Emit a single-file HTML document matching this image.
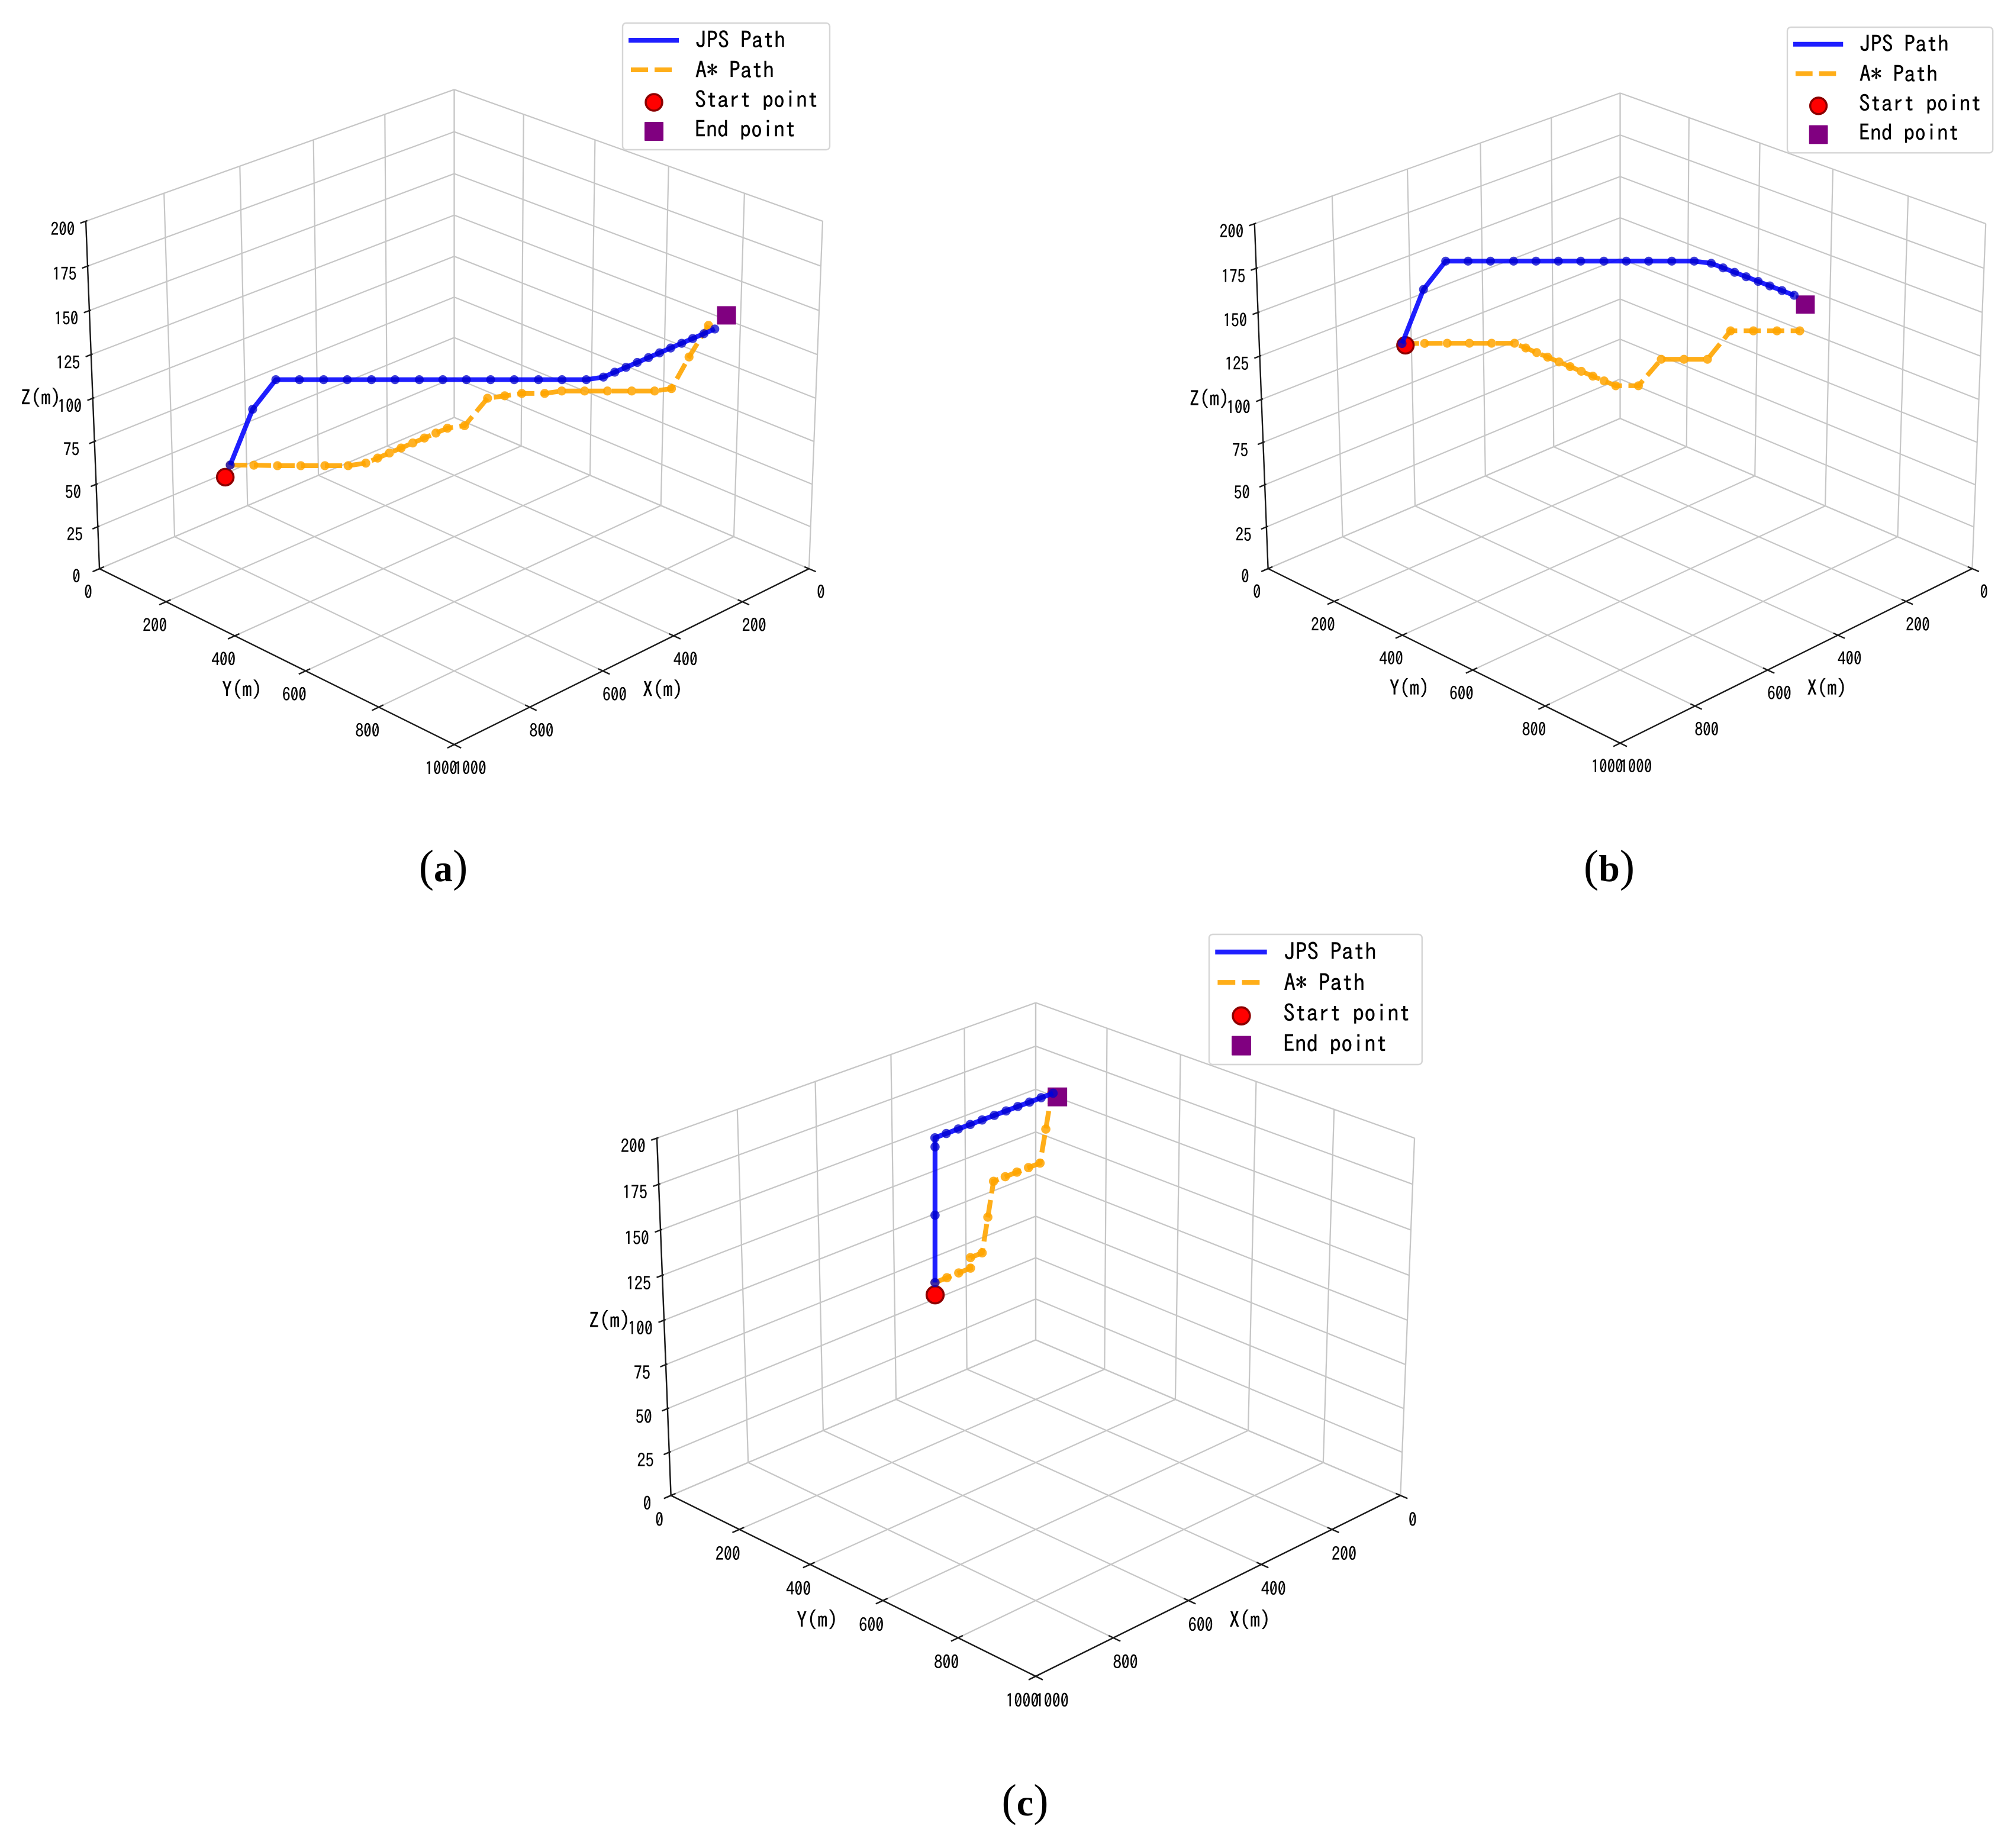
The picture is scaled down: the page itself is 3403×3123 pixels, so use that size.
<!DOCTYPE html>
<html lang="en">
<head>
<meta charset="utf-8">
<title>JPS and A* 3D path comparison</title>
<style>
html,body{margin:0;padding:0;background:#fff;}
svg{display:block;}
.tick{font-family:"IPAGothic","Liberation Mono",sans-serif;fill:#000;stroke:#000;stroke-width:0.3px;text-anchor:middle;dominant-baseline:central;}
.title{font-family:"IPAGothic","Liberation Mono",sans-serif;fill:#000;stroke:#000;stroke-width:0.3px;text-anchor:middle;dominant-baseline:central;}
.leg{font-family:"IPAGothic","Liberation Mono",sans-serif;font-size:38px;fill:#000;stroke:#000;stroke-width:0.4px;}
.cap{font-family:"Liberation Serif",serif;fill:#000;text-anchor:middle;}
.cap .p{font-size:76px;font-weight:normal;}
.cap .l{font-size:64px;font-weight:bold;}
</style>
</head>
<body>
<svg id="figure" xmlns="http://www.w3.org/2000/svg" width="3403" height="3123" viewBox="0 0 3403 3123">
  <rect x="0" y="0" width="3403" height="3123" fill="#ffffff"/>
  <g id="panel-a"></g>
  <g id="panel-b"></g>
  <g id="panel-c"></g>

  <text class="title" x="69" y="672" font-size="36" textLength="68" lengthAdjust="spacingAndGlyphs">Z(m)</text>
  <text class="title" x="409" y="1165" font-size="36" textLength="68" lengthAdjust="spacingAndGlyphs">Y(m)</text>
  <text class="title" x="1120" y="1165" font-size="36" textLength="68" lengthAdjust="spacingAndGlyphs">X(m)</text>
  <text class="title" x="2043.5" y="674" font-size="35.7" textLength="67.5" lengthAdjust="spacingAndGlyphs">Z(m)</text>
  <text class="title" x="2381.5" y="1163" font-size="35.7" textLength="67.5" lengthAdjust="spacingAndGlyphs">Y(m)</text>
  <text class="title" x="3087" y="1163" font-size="35.7" textLength="67.5" lengthAdjust="spacingAndGlyphs">X(m)</text>
  <text class="title" x="1030" y="2231" font-size="37" textLength="70" lengthAdjust="spacingAndGlyphs">Z(m)</text>
  <text class="title" x="1381" y="2737" font-size="37" textLength="70" lengthAdjust="spacingAndGlyphs">Y(m)</text>
  <text class="title" x="2112" y="2737" font-size="37" textLength="70" lengthAdjust="spacingAndGlyphs">X(m)</text>

  <g transform="translate(1052 39)">
    <rect x="0" y="0" width="350" height="214" rx="6" fill="#ffffff" fill-opacity="0.8" stroke="#d6d6d6" stroke-width="2.4"/>
    <line x1="10" y1="29" x2="95" y2="29" stroke="#0000ff" stroke-opacity="0.88" stroke-width="8"/>
    <line x1="14" y1="79" x2="83" y2="79" stroke="#ffa500" stroke-opacity="0.9" stroke-width="8" stroke-dasharray="29 11"/>
    <circle cx="53" cy="134" r="14" fill="#ff0000" stroke="#8b0000" stroke-width="3.5"/>
    <rect x="37" y="167" width="32" height="32" rx="1" fill="#800080"/>
    <text class="leg" x="123" y="42">JPS Path</text>
    <text class="leg" x="123" y="93">A* Path</text>
    <text class="leg" x="122" y="143">Start point</text>
    <text class="leg" x="122" y="193">End point</text>
  </g>
  <g transform="translate(3020 46) scale(0.992)">
    <rect x="0" y="0" width="350" height="214" rx="6" fill="#ffffff" fill-opacity="0.8" stroke="#d6d6d6" stroke-width="2.4"/>
    <line x1="10" y1="29" x2="95" y2="29" stroke="#0000ff" stroke-opacity="0.88" stroke-width="8"/>
    <line x1="14" y1="79" x2="83" y2="79" stroke="#ffa500" stroke-opacity="0.9" stroke-width="8" stroke-dasharray="29 11"/>
    <circle cx="53" cy="134" r="14" fill="#ff0000" stroke="#8b0000" stroke-width="3.5"/>
    <rect x="37" y="167" width="32" height="32" rx="1" fill="#800080"/>
    <text class="leg" x="123" y="42">JPS Path</text>
    <text class="leg" x="123" y="93">A* Path</text>
    <text class="leg" x="122" y="143">Start point</text>
    <text class="leg" x="122" y="193">End point</text>
  </g>
  <g transform="translate(2043 1579) scale(1.028)">
    <rect x="0" y="0" width="350" height="214" rx="6" fill="#ffffff" fill-opacity="0.8" stroke="#d6d6d6" stroke-width="2.4"/>
    <line x1="10" y1="29" x2="95" y2="29" stroke="#0000ff" stroke-opacity="0.88" stroke-width="8"/>
    <line x1="14" y1="79" x2="83" y2="79" stroke="#ffa500" stroke-opacity="0.9" stroke-width="8" stroke-dasharray="29 11"/>
    <circle cx="53" cy="134" r="14" fill="#ff0000" stroke="#8b0000" stroke-width="3.5"/>
    <rect x="37" y="167" width="32" height="32" rx="1" fill="#800080"/>
    <text class="leg" x="123" y="42">JPS Path</text>
    <text class="leg" x="123" y="93">A* Path</text>
    <text class="leg" x="122" y="143">Start point</text>
    <text class="leg" x="122" y="193">End point</text>
  </g>

  <text class="cap" x="749" y="1489"><tspan class="p">(</tspan><tspan class="l">a</tspan><tspan class="p">)</tspan></text>
  <text class="cap" x="2719" y="1489"><tspan class="p">(</tspan><tspan class="l">b</tspan><tspan class="p">)</tspan></text>
  <text class="cap" x="1732" y="3068"><tspan class="p">(</tspan><tspan class="l">c</tspan><tspan class="p">)</tspan></text>
</svg>

<script>
// Axis tick labels
const xTickValues = [0, 200, 400, 600, 800, 1000];
const yTickValues = [0, 200, 400, 600, 800, 1000];
const zTickValues = [0, 25, 50, 75, 100, 125, 150, 175, 200];

// Panel (a) data, metres
const aJpsX = [888,856,825,793,760,728,695,663,630,598,566,533,501,468,436,403,371,339,307,275,243,211,179,147,115,82,50];
const aJpsY = [273,306,340,372,405,437,470,502,535,567,599,632,664,697,729,762,777,777,777,777,777,777,777,777,777,777,777];
const aJpsZ = [76,108,125,125,125,125,125,125,125,125,125,125,125,125,125,125,125,125,125,125,125,125,125,125,125,125,125];
const aStarX = [888,856,825,793,760,728,696,664,632,600,568,536,504,472,440,408,376,344,312,280,248,216,182,150,118,86,52];
const aStarY = [273,306,340,372,405,437,453,453,453,453,453,453,453,453,469,501,517,533,565,581,613,645,679,711,727,743,762];
const aStarZ = [76,76,76,76,76,76,76,76,76,76,76,76,76,76,76,92,92,92,92,92,92,92,92,92,92,109,126];
const aStartPoint = [890, 260, 68];
const aEndPoint = [16, 777, 130];

// Panel (b) data, metres
const bJpsX = [762,730,698,667,636,604,573,542,511,479,448,417,385,354,338,338,338,338,338,338,338,338];
const bJpsY = [153,184,215,246,277,309,340,371,402,434,465,496,528,559,590,622,653,684,716,747,779,811];
const bJpsZ = [125,156,172,172,172,172,172,172,172,172,172,172,172,172,172,172,172,172,172,172,172,172];
const bStarX = [762,730,698,667,636,604,604,604,604,604,604,604,604,604,604,573,542,511,479,448,417,385,354];
const bStarY = [153,184,215,246,277,309,341,372,403,435,466,497,529,560,592,623,654,685,717,748,779,811,842];
const bStarZ = [125,125,125,125,125,125,125,125,125,125,125,125,125,125,125,125,140,140,140,156,156,156,156];
const bStartPoint = [763, 164, 125];
const bEndPoint = [311, 816, 165];

// Panel (c) data, metres
const cJpsX = [516,515,514,514,484,452,420,388,355,323,291,259,227,194];
const cJpsY = [240,241,242,242,242,242,242,242,242,242,242,242,242,242];
const cJpsZ = [100,138,176,181,181,181,181,181,181,181,181,181,181,181];
const cStarX = [516,484,452,420,420,388,372,356,324,292,260,228,212,196];
const cStarY = [240,240,240,240,240,240,240,240,240,240,240,240,240,240];
const cStarZ = [100,100,100,100,106,106,125,144,144,144,144,144,162,181];
const cStartPoint = [516, 240, 93];
const cEndPoint = [195, 255, 180];

// Camera model
const SVG_NS = 'http://www.w3.org/2000/svg';
const ELEV = 25 * Math.PI / 180;
const SIN_E = Math.sin(ELEV);
const COS_E = Math.cos(ELEV);
const DIST = 10;
const BOX_XY = 1.1905;
const BOX_Z = 0.8929;
const X_MAX = 1000;
const Y_MAX = 1000;
const Z_MAX = 200;

function project(view, x, y, z) {
  const dx = (x / X_MAX - 0.5) * BOX_XY;
  const dy = (y / Y_MAX - 0.5) * BOX_XY;
  const dz = (z / Z_MAX - 0.5) * BOX_Z;
  const p = (dy - dx) / Math.SQRT2;
  const q = (dx + dy) / Math.SQRT2;
  const depth = DIST - COS_E * q - SIN_E * dz;
  return [view.cx + view.k * p / depth, view.cy - view.k * (-SIN_E * q + COS_E * dz) / depth];
}

function make(tag, attrs, parent) {
  const node = document.createElementNS(SVG_NS, tag);
  for (const key in attrs) node.setAttribute(key, attrs[key]);
  parent.appendChild(node);
  return node;
}

function segment(view, a, b, stroke, width, parent) {
  const p1 = project(view, a[0], a[1], a[2]);
  const p2 = project(view, b[0], b[1], b[2]);
  return make('line', {x1: p1[0], y1: p1[1], x2: p2[0], y2: p2[1], stroke: stroke, 'stroke-width': width}, parent);
}

function pathPoints(view, xs, ys, zs) {
  return xs.map(function (x, i) { return project(view, x, ys[i], zs[i]); });
}

function drawAxes(view, g) {
  const s = view.k / 7255;
  const gridColor = '#c6c6c6';
  const gridWidth = 2.2 * s;
  const axisColor = '#1a1a1a';
  const axisWidth = 2.4 * s;

  xTickValues.forEach(function (v) {
    const floor = segment(view, [v, 0, 0], [v, Y_MAX, 0], gridColor, gridWidth, g);
    
    
    const wall = segment(view, [v, 0, 0], [v, 0, Z_MAX], gridColor, gridWidth, g);
    
    
  });
  yTickValues.forEach(function (v) {
    const floor = segment(view, [0, v, 0], [X_MAX, v, 0], gridColor, gridWidth, g);
    
    
    const wall = segment(view, [0, v, 0], [0, v, Z_MAX], gridColor, gridWidth, g);
    
    
  });
  zTickValues.forEach(function (v) {
    const left = segment(view, [X_MAX, 0, v], [0, 0, v], gridColor, gridWidth, g);
    
    
    const right = segment(view, [0, 0, v], [0, Y_MAX, v], gridColor, gridWidth, g);
    
    
  });

  const zAxis = segment(view, [X_MAX, 0, 0], [X_MAX, 0, Z_MAX], axisColor, axisWidth, g);
  
  
  const yAxis = segment(view, [X_MAX, 0, 0], [X_MAX, Y_MAX, 0], axisColor, axisWidth, g);
  
  
  const xAxis = segment(view, [0, Y_MAX, 0], [X_MAX, Y_MAX, 0], axisColor, axisWidth, g);
  
  

  const fontSize = 30 * s;
  const charWidth = 13.6 * s;

  xTickValues.forEach(function (v) {
    const tick = segment(view, [v, Y_MAX - 12, 0], [v, Y_MAX + 18, 0], axisColor, axisWidth, g);
    
    
    const p = project(view, v, Y_MAX, 0);
    const off = v === 1000 ? 27 : 20;
    const text = String(v);
    const label = make('text', {class: 'tick', x: p[0] + off * s, y: p[1] + 39.5 * s, 'font-size': fontSize, textLength: text.length * charWidth, lengthAdjust: 'spacingAndGlyphs'}, g);
    
    
    label.textContent = text;
  });
  yTickValues.forEach(function (v) {
    const tick = segment(view, [X_MAX - 12, v, 0], [X_MAX + 18, v, 0], axisColor, axisWidth, g);
    
    
    const p = project(view, X_MAX, v, 0);
    const text = String(v);
    const label = make('text', {class: 'tick', x: p[0] - (v === 1000 ? 22 : 19) * s, y: p[1] + 39.5 * s, 'font-size': fontSize, textLength: text.length * charWidth, lengthAdjust: 'spacingAndGlyphs'}, g);
    
    
    label.textContent = text;
  });
  zTickValues.forEach(function (v) {
    const tick = segment(view, [X_MAX - 4, 0, v], [X_MAX + 14, 0, v], axisColor, axisWidth, g);
    
    
    const p = project(view, X_MAX, 0, v);
    const text = String(v);
    const label = make('text', {class: 'tick', x: p[0] - 39 * s, y: p[1] + 13 * s, 'font-size': fontSize, textLength: text.length * charWidth, lengthAdjust: 'spacingAndGlyphs'}, g);
    
    
    label.textContent = text;
  });
}

function drawSeries(view, g, jps, star, startPoint, endPoint) {
  const s = view.k / 7255;

  const starPts = pathPoints(view, star[0], star[1], star[2]);
  const starLine = make('polyline', {
    points: starPts.map(function (p) { return p.join(','); }).join(' '),
    fill: 'none', stroke: '#ffa500', 'stroke-opacity': 0.9, 'stroke-width': 8 * s,
    'stroke-dasharray': (29 * s) + ' ' + (11 * s)
  }, g);
  
  
  starPts.forEach(function (p) {
    const dot = make('circle', {cx: p[0], cy: p[1], r: 7.6 * s, fill: '#ffa500', 'fill-opacity': 0.85}, g);
    
    
  });

  const sp = project(view, startPoint[0], startPoint[1], startPoint[2]);
  const startMark = make('circle', {cx: sp[0], cy: sp[1], r: 14 * s, fill: '#ff0000', stroke: '#8b0000', 'stroke-width': 3.5 * s}, g);
  
  

  const ep = project(view, endPoint[0], endPoint[1], endPoint[2]);
  const endMark = make('rect', {x: ep[0] - 16 * s, y: ep[1] - 15.5 * s, width: 32 * s, height: 31 * s, fill: '#800080'}, g);
  
  

  const jpsPts = pathPoints(view, jps[0], jps[1], jps[2]);
  const jpsLine = make('polyline', {
    points: jpsPts.map(function (p) { return p.join(','); }).join(' '),
    fill: 'none', stroke: '#0000ff', 'stroke-opacity': 0.88, 'stroke-width': 8 * s, 'stroke-linejoin': 'round'
  }, g);
  
  
  jpsPts.forEach(function (p) {
    const dot = make('circle', {cx: p[0], cy: p[1], r: 7.6 * s, fill: '#0000cc', 'fill-opacity': 0.75}, g);
    
    
  });
}

const viewA = {cx: 767.5, cy: 673, k: 7255};
const viewB = {cx: 2737.5, cy: 675, k: 7200};
const viewC = {cx: 1750, cy: 2231, k: 7460};

drawAxes(viewA, document.getElementById('panel-a'));
drawSeries(viewA, document.getElementById('panel-a'), [aJpsX, aJpsY, aJpsZ], [aStarX, aStarY, aStarZ], aStartPoint, aEndPoint);
drawAxes(viewB, document.getElementById('panel-b'));
drawSeries(viewB, document.getElementById('panel-b'), [bJpsX, bJpsY, bJpsZ], [bStarX, bStarY, bStarZ], bStartPoint, bEndPoint);
drawAxes(viewC, document.getElementById('panel-c'));
drawSeries(viewC, document.getElementById('panel-c'), [cJpsX, cJpsY, cJpsZ], [cStarX, cStarY, cStarZ], cStartPoint, cEndPoint);
</script>
</body>
</html>
